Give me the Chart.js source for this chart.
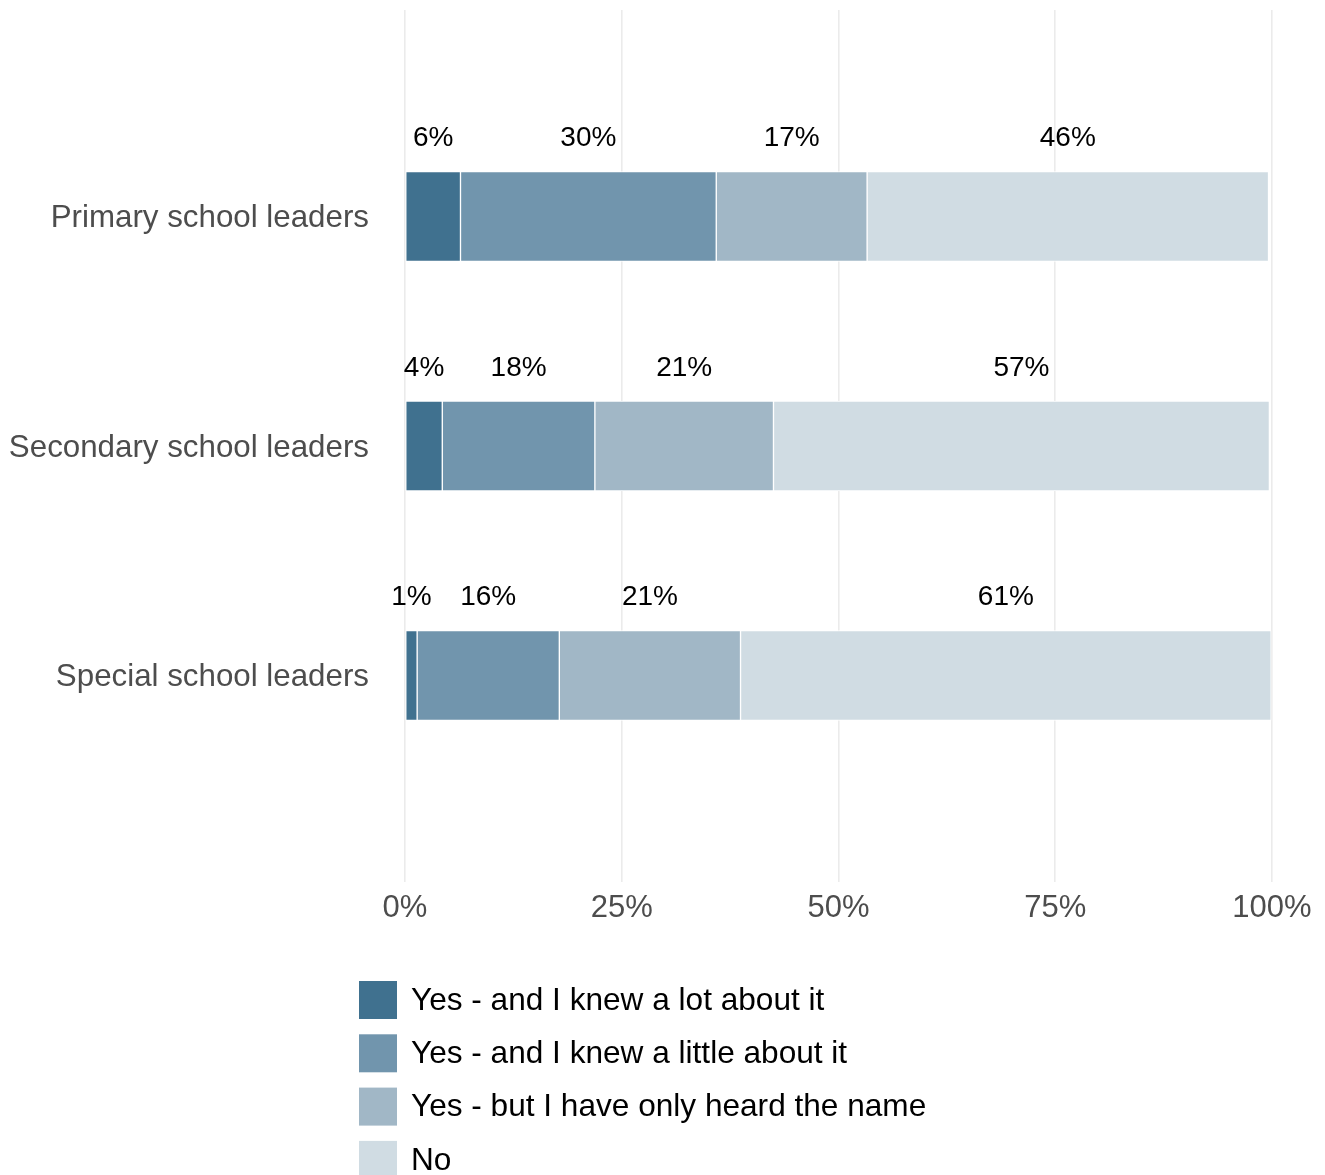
<!DOCTYPE html>
<html>
<head>
<meta charset="utf-8">
<title>Awareness among school leaders</title>
<script src="https://cdn.jsdelivr.net/npm/chart.js@4/dist/chart.umd.min.js"></script>
<style>
  html, body { margin: 0; padding: 0; background: #ffffff; }
  #wrap { width: 1325px; height: 1175px; position: relative; }
</style>
</head>
<body>
<div id="wrap"><canvas id="chart" width="1325" height="1175"></canvas></div>
<script>
// Survey groups (top to bottom)
const categories = ['Primary school leaders', 'Secondary school leaders', 'Special school leaders'];

// Response options, in stacking order
const seriesNames = [
  'Yes - and I knew a lot about it',
  'Yes - and I knew a little about it',
  'Yes - but I have only heard the name',
  'No'
];

// Share of respondents (%) per group, one array per response option
const knewLot    = [6.4, 4.3, 1.4];
const knewLittle = [29.5, 17.6, 16.4];
const heardName  = [17.4, 20.6, 20.9];
const noAnswer   = [46.3, 57.2, 61.2];

// x-axis tick values (%)
const xTicks = [0, 25, 50, 75, 100];

const seriesValues = [knewLot, knewLittle, heardName, noAnswer];
const seriesColors = ['#40718f', '#7195ad', '#a1b7c6', '#d0dce3'];

const FONT = '"Liberation Sans", Arial, Helvetica, sans-serif';

const datasets = seriesValues.map((vals, s) => ({
  label: seriesNames[s],
  data: vals.map((v, i) => ({ x: v, y: i })),
  backgroundColor: seriesColors[s],
  borderColor: '#ffffff',
  borderWidth: 1,
  borderSkipped: false,
  barThickness: 90
}));

// Percentage labels centred above each segment
const segmentLabels = {
  id: 'segmentLabels',
  afterDatasetsDraw(chart) {
    const ctx = chart.ctx;
    ctx.save();
    ctx.font = '28px ' + FONT;
    ctx.fillStyle = '#000000';
    ctx.textAlign = 'center';
    ctx.textBaseline = 'middle';
    chart.data.datasets.forEach((ds, di) => {
      const meta = chart.getDatasetMeta(di);
      meta.data.forEach((el, i) => {
        const v = ds.data[i].x;
        const cx = (el.x + el.base) / 2;
        ctx.fillText(Math.round(v) + '%', cx, el.y - 78);
      });
    });
    ctx.restore();
  }
};

// Vertical legend below the plot
const stackedLegend = {
  id: 'stackedLegend',
  afterDraw(chart) {
    const ctx = chart.ctx;
    ctx.save();
    ctx.font = '31.6px ' + FONT;
    ctx.textAlign = 'left';
    ctx.textBaseline = 'middle';
    chart.data.datasets.forEach((ds, i) => {
      const top = 981 + i * 53.3;
      ctx.fillStyle = ds.backgroundColor;
      ctx.fillRect(359, top, 38, 38);
      ctx.fillStyle = '#000000';
      ctx.fillText(ds.label, 411, top + 20);
    });
    ctx.restore();
  }
};

new Chart(document.getElementById('chart'), {
  type: 'bar',
  data: { datasets },
  options: {
    indexAxis: 'y',
    responsive: false,
    animation: false,
    layout: { padding: { top: 10, right: 53, bottom: 243, left: 0 } },
    plugins: {
      legend: { display: false },
      tooltip: { enabled: false }
    },
    scales: {
      x: {
        type: 'linear',
        stacked: true,
        min: 0,
        max: 100,
        afterBuildTicks: (s) => { s.ticks = xTicks.map(v => ({ value: v })); },
        afterFit: (s) => { s.height = 50; },
        grid: { color: '#ebebeb', lineWidth: 1.6, drawTicks: false },
        border: { display: false },
        ticks: {
          padding: 8,
          color: '#4d4d4d',
          font: { family: FONT, size: 31 },
          callback: (v) => v + '%'
        }
      },
      y: {
        type: 'linear',
        stacked: true,
        reverse: true,
        offset: false,
        min: -0.9,
        max: 2.9,
        afterBuildTicks: (s) => { s.ticks = categories.map((_, i) => ({ value: i })); },
        afterFit: (s) => { s.width = 405; s.paddingTop = 0; s.paddingBottom = 0; },
        grid: { display: false, drawTicks: false, offset: false },
        border: { display: false },
        ticks: {
          padding: 36,
          labelOffset: 2,
          autoSkip: false,
          color: '#4d4d4d',
          font: { family: FONT, size: 31.3 },
          callback: (v) => categories[v] !== undefined ? categories[v] : ''
        }
      }
    }
  },
  plugins: [segmentLabels, stackedLegend]
});
</script>
</body>
</html>
